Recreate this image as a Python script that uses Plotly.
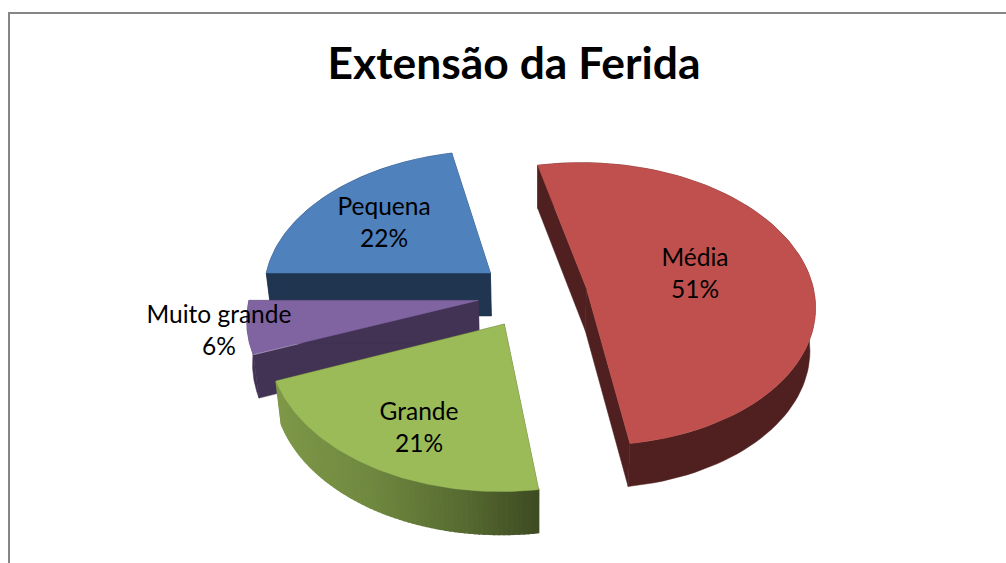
import math
import plotly.graph_objects as go

# ---- data ----
categories = ["Pequena", "Média", "Grande", "Muito grande"]
percent_values = [21.6, 51.1, 21.3, 6.0]
chart_title = "Extensão da Ferida"
top_colors = ["#4F81BD", "#C0504D", "#9BBB59", "#8064A2"]
wall_colors = ["#1F3550", "#4F201F", None, "#423253"]
draw_order = [0, 3, 2, 1]
label_x = [384, 695, 419, 219]
label_y = [225, 275.5, 429.5, 332.5]
FONT = "Lato"

# ---- projection of the exploded 3-D pie ----
FIRST_ANGLE = 270.0
CX, CY = 532.5, 294.0
RADIUS, EXPLODE = 228.0, 55.0
TILT, PERSP = 0.618, 0.0005
DEPTH, FLOOR_SCALE = 43.0, 0.98


def project(wx, wy, lower=False):
    s = 1.0 / (1.0 - PERSP * wy)
    x = CX + wx * s
    y = CY + TILT * wy * s
    if lower:
        x = 537 + (x - 537) * FLOOR_SCALE
        y += DEPTH
    return x, y


def arc_world(centre, a0, a1, n):
    pts = []
    for i in range(n + 1):
        a = math.radians(a0 + (a1 - a0) * i / n)
        pts.append((centre[0] + RADIUS * math.sin(a), centre[1] - RADIUS * math.cos(a)))
    return pts


def poly(fig, pts, color, name, width=0.5):
    xs = [p[0] for p in pts] + [pts[0][0]]
    ys = [p[1] for p in pts] + [pts[0][1]]
    fig.add_trace(go.Scatter(x=xs, y=ys, mode="lines", fill="toself", fillcolor=color,
                             line=dict(color=color, width=width), name=name,
                             showlegend=False, hoverinfo="name"))


def lerp_rgb(stops, t):
    for (t0, c0), (t1, c1) in zip(stops, stops[1:]):
        if t <= t1:
            f = (t - t0) / (t1 - t0)
            rgb = [int(round(c0[i] + (c1[i] - c0[i]) * f)) for i in range(3)]
            return "rgb(%d,%d,%d)" % tuple(rgb)
    return "rgb(%d,%d,%d)" % tuple(stops[-1][1])


GREEN_STOPS = [(0.0, (126, 152, 72)), (0.35, (112, 137, 64)), (0.7, (88, 108, 50)), (1.0, (62, 76, 34))]

fig = go.Figure()
total = sum(percent_values)
starts = []
acc = FIRST_ANGLE
for v in percent_values:
    starts.append(acc)
    acc += 360.0 * v / total

for idx in draw_order:
    a0 = starts[idx]
    a1 = a0 + 360.0 * percent_values[idx] / total
    mid = math.radians((a0 + a1) / 2)
    centre = (EXPLODE * math.sin(mid), -EXPLODE * math.cos(mid))
    name = categories[idx]
    arc = arc_world(centre, a0, a1, 90)
    top = [project(*centre)] + [project(*p) for p in arc]
    low_c = project(*centre, lower=True)
    wall = wall_colors[idx] or "#3E4C22"
    for p in (arc[0], arc[-1]):
        poly(fig, [project(*centre), project(*p), project(*p, lower=True), low_c], wall, name)
    if wall_colors[idx]:
        upper = [project(*p) for p in arc]
        lower = [project(*p, lower=True) for p in arc]
        poly(fig, upper + lower[::-1], wall, name)
    else:
        # stepped shading of the rim, left to right across the slice
        n = 70
        segs = arc_world(centre, a0, a1, n)
        xs = [project(*p)[0] for p in segs]
        xmin, xmax = min(xs), max(xs)
        for i in range(n, 0, -1):
            t = (0.5 * (xs[i] + xs[i - 1]) - xmin) / (xmax - xmin)
            poly(fig, [project(*segs[i]), project(*segs[i - 1]),
                       project(*segs[i - 1], lower=True), project(*segs[i], lower=True)],
                 lerp_rgb(GREEN_STOPS, t), name, width=1.5)
    poly(fig, top, top_colors[idx], name)

fig.add_trace(go.Scatter(
    x=label_x, y=label_y, mode="text",
    text=["%s<br>%d%%" % (c, round(v)) for c, v in zip(categories, percent_values)],
    textposition="middle center",
    textfont=dict(family=FONT, size=24.5, color="#000000"),
    showlegend=False, hoverinfo="skip"))

fig.update_layout(
    width=1006, height=563,
    margin=dict(l=0, r=0, t=0, b=0),
    paper_bgcolor="#FFFFFF", plot_bgcolor="#FFFFFF",
    showlegend=False,
    xaxis=dict(range=[0, 1006], visible=False, fixedrange=True),
    yaxis=dict(range=[563, 0], visible=False, fixedrange=True),
    title=dict(text="<b>%s</b>" % chart_title, x=0.511, xanchor="center", y=0.888, yanchor="middle",
               font=dict(family=FONT, size=44.4, color="#000000")),
    shapes=[dict(type="rect", xref="x", yref="y", x0=9, y0=13, x1=1030, y1=590,
                 line=dict(color="#868686", width=2), fillcolor="rgba(0,0,0,0)", layer="below")],
)
fig.write_html("out.html", config=dict(displayModeBar=False),
               post_script="document.body.style.margin='0';document.body.style.overflow='hidden';")
